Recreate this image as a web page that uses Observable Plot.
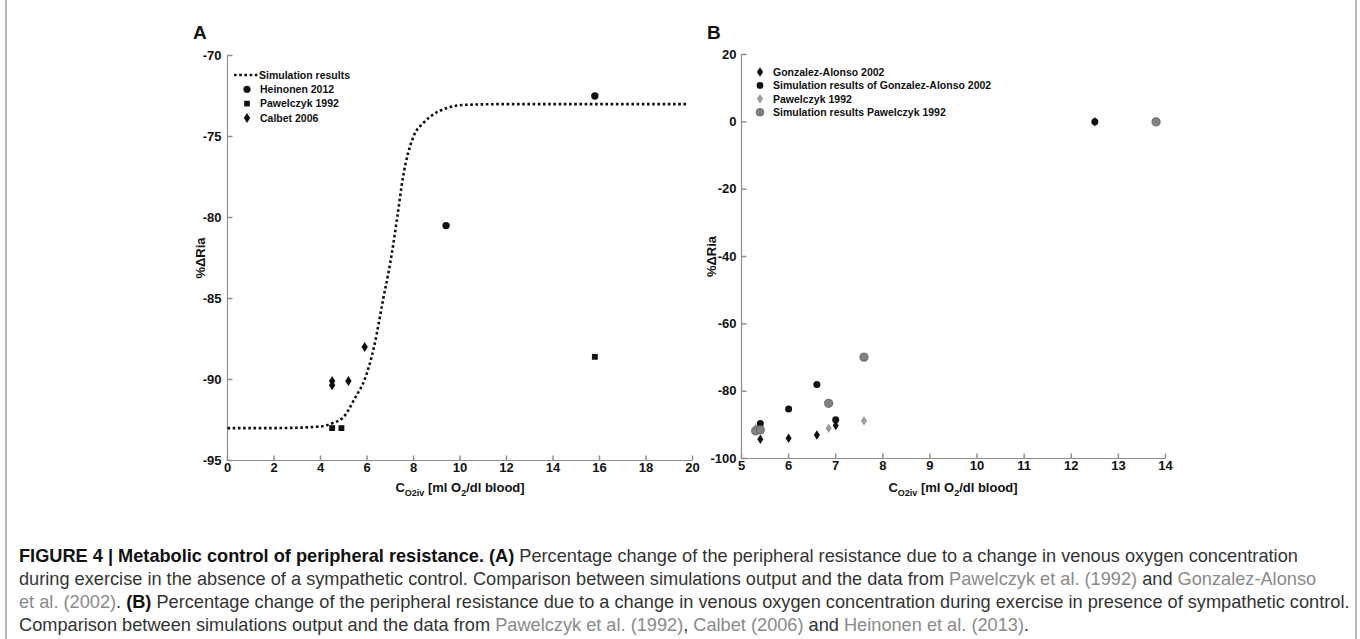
<!DOCTYPE html>
<html><head><meta charset="utf-8">
<script src="https://cdn.jsdelivr.net/npm/d3@7"></script>
<script src="https://cdn.jsdelivr.net/npm/@observablehq/plot@0.6"></script>
<style>
body{margin:0;background:#fff;}
#fig{position:relative;width:1360px;height:639px;overflow:hidden;font-family:"Liberation Sans",Arial,sans-serif;background:#fff;}
.letter{position:absolute;font-weight:bold;font-size:19px;color:#111;line-height:1;}
.xlab{position:absolute;font-weight:bold;font-size:13px;color:#111;transform:translateX(-50%);white-space:nowrap;line-height:1;}
.xlab sub{font-size:9px;vertical-align:-4px;line-height:0;}
#caption{position:absolute;left:19px;top:545px;font-size:18.2px;line-height:23px;color:#333;white-space:nowrap;}
#caption b{color:#111;}
.cite{color:#8a8a8a;}
.frame{position:absolute;top:0;bottom:0;width:2px;background:#b8b8b8;}
</style></head>
<body>
<div id="fig"></div>
<script>
// ---------- Panel A data ----------
const simX = [0, 2, 4, 4.5, 5, 5.5, 5.9, 6.3, 6.7, 7.0, 7.3, 7.55, 8.0, 8.4, 8.7, 9.4, 10.2, 12, 14, 16, 18, 19.8];
const simY = [-93, -93, -92.9, -92.7, -92.3, -91.1, -90, -88, -85, -82.8, -80, -77.5, -75, -74.2, -73.8, -73.26, -73.05, -73, -73, -73, -73, -73];
const heinonenX = [9.4, 15.8];
const heinonenY = [-80.5, -72.5];
const pawAX = [4.5, 4.9, 15.8];
const pawAY = [-93, -93, -88.6];
const calbetX = [4.5, 4.5, 5.2, 5.9];
const calbetY = [-90.1, -90.35, -90.1, -88];
const xTicksA = [0, 2, 4, 6, 8, 10, 12, 14, 16, 18, 20];
const yTicksA = [-95, -90, -85, -80, -75, -70];
const legendA = ["Simulation results", "Heinonen 2012", "Pawelczyk 1992", "Calbet 2006"];

// ---------- Panel B data ----------
const gaX = [5.4, 6.0, 6.6, 7.0, 12.5];
const gaY = [-94.3, -94, -93, -90.2, 0];
const simGaX = [5.4, 6.0, 6.6, 7.0, 12.5];
const simGaY = [-89.6, -85.3, -78, -88.5, 0];
const pawBX = [5.3, 6.85, 7.6, 13.8];
const pawBY = [-91, -91, -88.8, 0];
const simPawX = [5.3, 5.4, 6.85, 7.6, 13.8];
const simPawY = [-91.8, -91.5, -83.6, -69.9, 0];
const xTicksB = [5, 6, 7, 8, 9, 10, 11, 12, 13, 14];
const yTicksB = [-100, -80, -60, -40, -20, 0, 20];
const legendB = ["Gonzalez-Alonso 2002", "Simulation results of Gonzalez-Alonso 2002", "Pawelczyk 1992", "Simulation results Pawelczyk 1992"];

const zip = (xs, ys) => xs.map((x, i) => ({x, y: ys[i]}));

const fontFam = '"Liberation Sans", Arial, sans-serif';
const axisGray = "#8e8e8e";
const black = "#111";
const grayD = "#9c9c9c";
const grayC = "#828282";
const dash = {stroke: black, strokeWidth: 2.6, strokeDasharray: "2.6,2.6", strokeLinecap: "butt"};

const tickUp = {draw(ctx) { ctx.moveTo(0, 0); ctx.lineTo(0, -5); }};
const tickRight = {draw(ctx) { ctx.moveTo(0, 0); ctx.lineTo(5, 0); }};
const tallDiamond = {draw(ctx, size) {
  const r = Math.sqrt(size / Math.PI);
  ctx.moveTo(0, -r * 1.25); ctx.lineTo(r * 0.8, 0); ctx.lineTo(0, r * 1.25); ctx.lineTo(-r * 0.8, 0); ctx.closePath();
}};

function panel(o) {
  return Plot.plot({
    width: o.width, height: o.height,
    marginLeft: o.mL, marginRight: o.mR, marginTop: o.mT, marginBottom: o.mB,
    x: {domain: o.xDomain}, y: {domain: o.yDomain},
    style: {fontFamily: fontFam, fontSize: "13px", fontWeight: "bold", color: black, background: "transparent", overflow: "visible"},
    marks: [
      Plot.ruleY([o.yDomain[0]], {stroke: axisGray, strokeWidth: 1.2}),
      Plot.ruleX([o.xDomain[0]], {stroke: axisGray, strokeWidth: 1.2}),
      Plot.dot(o.xTicks, {x: d => d, frameAnchor: "bottom", symbol: tickUp, fill: "none", stroke: axisGray, r: 2}),
      Plot.dot(o.yTicks, {y: d => d, frameAnchor: "left", symbol: tickRight, fill: "none", stroke: axisGray, r: 2}),
      Plot.axisX({ticks: o.xTicks, tickSize: 0, tickPadding: 2, label: null, tickFormat: d => String(d)}),
      Plot.axisY({ticks: o.yTicks, tickSize: 0, tickPadding: o.yPad, label: "%ΔRia", labelAnchor: "center", labelOffset: o.labelOffset, labelArrow: "none", tickFormat: d => String(d)}),
      ...o.marks
    ]
  });
}

const fig = document.getElementById("fig");

// Panel A
const plotA = panel({
  width: 700, height: 480, mL: 227, mR: 8, mT: 55, mB: 20,
  xDomain: [0, 20], yDomain: [-95, -70], xTicks: xTicksA, yTicks: yTicksA, yPad: 6, labelOffset: 32,
  marks: [
    Plot.line(zip(simX, simY), {x: "x", y: "y", ...dash, curve: "monotone-x"}),
    Plot.dot(zip(heinonenX, heinonenY), {x: "x", y: "y", symbol: "circle", r: 3.7, fill: black, stroke: "none"}),
    Plot.dot(zip(pawAX, pawAY), {x: "x", y: "y", symbol: "square", r: 3.3, fill: black, stroke: "none"}),
    Plot.dot(zip(calbetX, calbetY), {x: "x", y: "y", symbol: tallDiamond, r: 4, fill: black, stroke: "none"})
  ]
});
plotA.style.position = "absolute"; plotA.style.left = "0px"; plotA.style.top = "0px";
fig.appendChild(plotA);

// Panel B
const plotB = panel({
  width: 480, height: 480, mL: 41, mR: 15, mT: 54, mB: 22,
  xDomain: [5, 14], yDomain: [-100, 20], xTicks: xTicksB, yTicks: yTicksB, yPad: 5, labelOffset: 35,
  marks: [
    Plot.dot(zip(pawBX, pawBY), {x: "x", y: "y", symbol: tallDiamond, r: 3.8, fill: grayD, stroke: "none"}),
    Plot.dot(zip(gaX, gaY), {x: "x", y: "y", symbol: tallDiamond, r: 3.8, fill: black, stroke: "none"}),
    Plot.dot(zip(simGaX, simGaY), {x: "x", y: "y", symbol: "circle", r: 3.5, fill: black, stroke: "none"}),
    Plot.dot(zip(simPawX, simPawY), {x: "x", y: "y", symbol: "circle", r: 4.1, fill: grayC, stroke: "#5a5a5a", strokeWidth: 0.8})
  ]
});
plotB.style.position = "absolute"; plotB.style.left = "700px"; plotB.style.top = "0px";
fig.appendChild(plotB);

// Legends
function legend(top, items, rowH, markerX, textX) {
  const h = rowH * items.length + 10;
  const svg = d3.create("svg").attr("width", 1360).attr("height", h)
    .style("position", "absolute").style("left", "0px").style("top", top + "px").style("overflow", "visible");
  items.forEach((it, i) => {
    const cy = 6 + i * rowH;
    if (it.kind === "dots") {
      svg.append("line").attr("x1", markerX - 13).attr("x2", markerX + 11).attr("y1", cy).attr("y2", cy)
        .attr("stroke", black).attr("stroke-width", 2.6).attr("stroke-dasharray", "2.6,2.6");
    } else {
      const sym = it.kind === "circle" ? d3.symbolCircle : it.kind === "square" ? d3.symbolSquare : tallDiamond;
      svg.append("path").attr("d", d3.symbol(sym, it.size)()).attr("transform", `translate(${markerX},${cy})`)
        .attr("fill", it.fill).attr("stroke", it.stroke || "none").attr("stroke-width", 0.8);
    }
    svg.append("text").attr("x", it.kind === "dots" ? textX - 1 : textX).attr("y", cy).attr("dy", "0.36em")
      .attr("font-family", fontFam).attr("font-size", 10.5).attr("font-weight", "bold").attr("fill", black).text(it.label);
  });
  fig.appendChild(svg.node());
}
legend(69, [
  {kind: "dots", label: legendA[0]},
  {kind: "circle", label: legendA[1], size: Math.PI * 3.6 * 3.6, fill: black},
  {kind: "square", label: legendA[2], size: 32, fill: black},
  {kind: "diamond", label: legendA[3], size: Math.PI * 16, fill: black}
], 14.3, 247, 260);
legend(66, [
  {kind: "diamond", label: legendB[0], size: Math.PI * 15, fill: black},
  {kind: "circle", label: legendB[1], size: Math.PI * 3.4 * 3.4, fill: black},
  {kind: "diamond", label: legendB[2], size: Math.PI * 15, fill: grayD},
  {kind: "circle", label: legendB[3], size: Math.PI * 3.8 * 3.8, fill: grayC, stroke: "#5a5a5a"}
], 13.4, 760, 773);

// Texts
fig.insertAdjacentHTML("beforeend", `
<div class="letter" style="left:193px;top:23px;">A</div>
<div class="letter" style="left:707px;top:23px;">B</div>
<div class="xlab" style="left:460px;top:481px;">C<sub>O2iv</sub> [ml O<sub>2</sub>/dl blood]</div>
<div class="xlab" style="left:953px;top:481px;">C<sub>O2iv</sub> [ml O<sub>2</sub>/dl blood]</div>
<div class="frame" style="left:5px;"></div>
<div class="frame" style="left:1355px;"></div>
<div id="caption"><b>FIGURE 4 | Metabolic control of peripheral resistance. (A)</b> Percentage change of the peripheral resistance due to a change in venous oxygen concentration<br>during exercise in the absence of a sympathetic control. Comparison between simulations output and the data from <span class="cite">Pawelczyk et al. (1992)</span> and <span class="cite">Gonzalez-Alonso</span><br><span class="cite">et al. (2002)</span>. <b>(B)</b> Percentage change of the peripheral resistance due to a change in venous oxygen concentration during exercise in presence of sympathetic control.<br>Comparison between simulations output and the data from <span class="cite">Pawelczyk et al. (1992)</span>, <span class="cite">Calbet (2006)</span> and <span class="cite">Heinonen et al. (2013)</span>.</div>
`);
</script>
</body></html>
